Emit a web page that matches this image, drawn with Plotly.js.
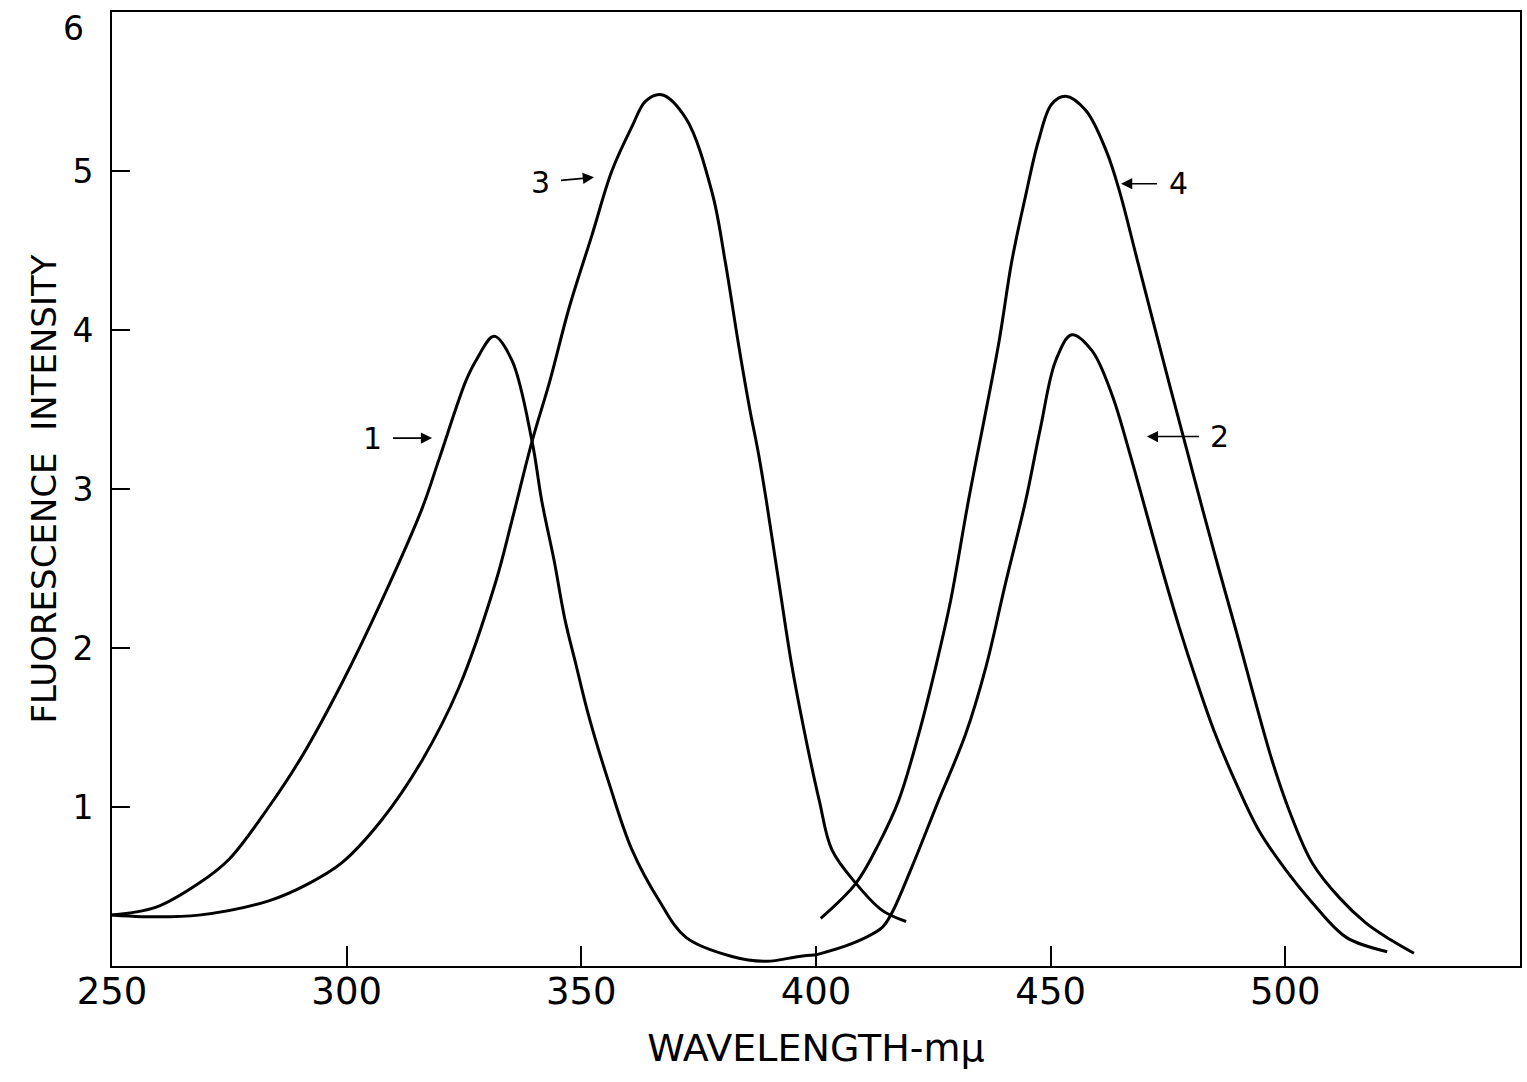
<!DOCTYPE html>
<html>
<head>
<meta charset="utf-8">
<script src="https://cdn.plot.ly/plotly-3.0.1.min.js"></script>
<style>html,body{margin:0;padding:0;background:#fff;}#chart{width:1527px;height:1082px;}</style>
</head>
<body>
<div id="chart"></div>
<script>
// Curve 1
const wl1 = [250, 259.4, 268.5, 274.9, 283.4, 290.5, 299.0, 307.5, 316.1, 319.6, 325.4, 327.6, 331.4, 335.2, 339.5, 341.6, 344.2, 346.5, 348.9, 351.6, 355.9, 360.8, 366.6, 372.3, 382.1, 389.4, 396.4, 400];
const fi1 = [0.32, 0.37, 0.52, 0.67, 1.00, 1.32, 1.78, 2.30, 2.88, 3.18, 3.68, 3.81, 3.96, 3.81, 3.30, 2.92, 2.55, 2.18, 1.89, 1.57, 1.15, 0.73, 0.41, 0.18, 0.06, 0.03, 0.06, 0.07];
// Curve 2
const wl2 = [400, 407.6, 414.0, 416.1, 420.4, 426.1, 431.9, 436.2, 440.4, 444.7, 447.8, 451.1, 454.5, 458.8, 463.1, 466.7, 470.3, 473.7, 477.4, 481.0, 484.8, 489.5, 494.4, 500.2, 505.7, 513.0, 521.7];
const fi2 = [0.07, 0.14, 0.24, 0.33, 0.62, 1.04, 1.46, 1.88, 2.41, 2.93, 3.38, 3.81, 3.97, 3.87, 3.59, 3.24, 2.86, 2.50, 2.13, 1.80, 1.48, 1.15, 0.85, 0.60, 0.40, 0.18, 0.09];
// Curve 3
const wl3 = [250, 256.4, 268.5, 283.4, 292.0, 299.0, 307.5, 316.0, 323.9, 331.8, 335.2, 339.5, 343.3, 347.4, 352.3, 356.5, 360.8, 363.7, 367.1, 372.3, 377.9, 380.6, 383.6, 385.9, 387.7, 389.4, 392.1, 394.9, 397.9, 400.7, 403.4, 408.5, 414.1, 419.2];
const fi3 = [0.32, 0.31, 0.32, 0.41, 0.52, 0.65, 0.92, 1.29, 1.75, 2.42, 2.80, 3.30, 3.68, 4.14, 4.60, 5.00, 5.28, 5.44, 5.48, 5.33, 4.86, 4.44, 3.89, 3.50, 3.23, 2.93, 2.41, 1.88, 1.42, 1.04, 0.73, 0.52, 0.35, 0.28];
// Curve 4
const wl4 = [401.0, 408.5, 413.4, 417.6, 421.9, 425.5, 428.7, 432.5, 438.9, 441.7, 444.7, 447.4, 450.2, 453.2, 457.5, 461.8, 464.6, 468.2, 471.6, 475.2, 478.8, 482.2, 485.8, 489.5, 492.9, 497.1, 500.8, 505.7, 511.5, 517.2, 522.7, 527.4];
const fi4 = [0.30, 0.52, 0.77, 1.04, 1.46, 1.88, 2.30, 2.93, 3.91, 4.43, 4.85, 5.19, 5.42, 5.47, 5.38, 5.13, 4.88, 4.47, 4.08, 3.67, 3.27, 2.89, 2.50, 2.11, 1.74, 1.30, 0.98, 0.65, 0.43, 0.27, 0.16, 0.08];

const xTicks = [250, 300, 350, 400, 450, 500];
const xTickText = ["250", "300", "350", "400", "450", "500"];
const yTicks = [1, 2, 3, 4, 5, 6];
const yTickText = ["1", "2", "3", "4", "5", ""];
const yTopLabel = "6";
const curveLabels = ["1", "2", "3", "4"];

const font = "DejaVu Sans, sans-serif";
const series = [[wl1, fi1], [wl2, fi2], [wl3, fi3], [wl4, fi4]];
const traces = series.map((s, i) => ({
  x: s[0], y: s[1], type: "scatter", mode: "lines", name: curveLabels[i],
  line: {color: "#000", width: 3, shape: "spline", smoothing: 1.0},
  hoverinfo: "skip"
}));

function ann(label, x, y, ax, ay) {
  return {x: x, y: y, xref: "x", yref: "y", text: label, showarrow: true,
    ax: ax, ay: ay, arrowhead: 2, arrowsize: 1.4, arrowwidth: 1.6, arrowcolor: "#000",
    startstandoff: 10, font: {family: font, size: 30, color: "#000"}};
}

const layout = {
  width: 1527, height: 1082,
  margin: {l: 112, r: 7, t: 12, b: 116},
  paper_bgcolor: "#fff", plot_bgcolor: "#fff",
  showlegend: false,
  xaxis: {
    range: [250, 550], tickvals: xTicks, ticktext: xTickText,
    ticks: "inside", ticklen: 20, tickwidth: 2, tickcolor: "#000",
    showline: true, linecolor: "#000", linewidth: 2, mirror: true,
    showgrid: false, zeroline: false, ticklabelstandoff: -8,
    tickfont: {family: font, size: 37, color: "#000"},
    title: {text: "WAVELENGTH-m\u03bc", standoff: 22, font: {family: font, size: 38, color: "#000"}}
  },
  yaxis: {
    range: [0, 6], tickvals: yTicks, ticktext: yTickText,
    ticks: "inside", ticklen: 18, tickwidth: 2, tickcolor: "#000",
    showline: true, linecolor: "#000", linewidth: 2, mirror: true,
    showgrid: false, zeroline: false, ticklabelstandoff: 10,
    tickfont: {family: font, size: 33, color: "#000"},
    title: {text: "FLUORESCENCE  INTENSITY", standoff: 6, font: {family: font, size: 34, color: "#000"}}
  },
  annotations: [
    ann("1", 318.2, 3.32, -60, 0),
    ann("3", 352.7, 4.96, -54, 5),
    ann("4", 465.0, 4.92, 57, 0),
    ann("2", 470.5, 3.33, 73, 0),
    {xref: "paper", x: 0, yref: "y", y: 6, xanchor: "right", yanchor: "middle",
     xshift: -26, yshift: -16, showarrow: false, text: yTopLabel,
     font: {family: font, size: 33, color: "#000"}}
  ]
};

Plotly.newPlot("chart", traces, layout, {displayModeBar: false, staticPlot: true});
</script>
</body>
</html>
